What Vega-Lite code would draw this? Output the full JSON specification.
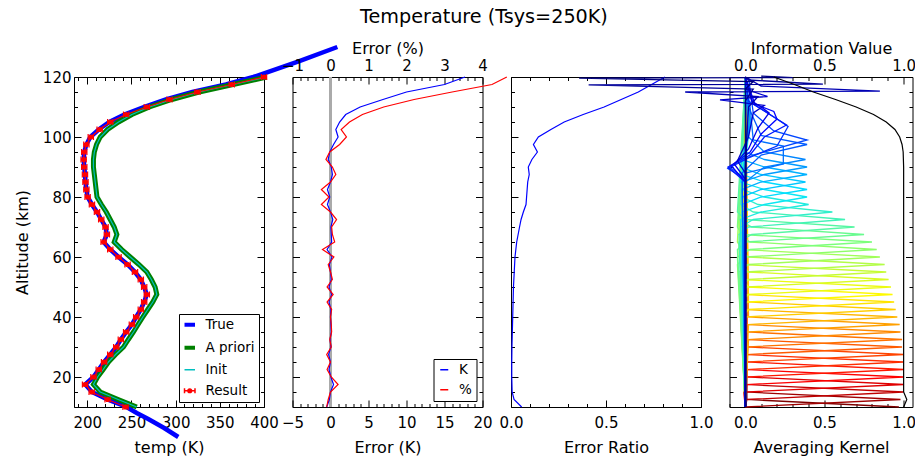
{
  "$schema": "https://vega.github.io/schema/vega-lite/v6.json",
  "padding": {"left": 13, "top": 8, "right": 0, "bottom": 0},
  "bounds": "flush",
  "spacing": 28.5,
  "title": {"text": "Temperature (Tsys=250K)", "font": "DejaVu Sans", "fontSize": 19.2, "fontWeight": "normal", "color": "black", "anchor": "middle", "dx": 19, "offset": 10},
  "config": {
    "font": "DejaVu Sans",
    "view": {"stroke": "black", "strokeWidth": 1},
    "axis": {"grid": false, "domain": false, "tickColor": "black", "tickWidth": 1, "labelColor": "black", "titleColor": "black", "labelFont": "DejaVu Sans", "titleFont": "DejaVu Sans", "labelFontSize": 15, "titleFontSize": 16, "titleFontWeight": "normal", "labelFlush": false, "labelOverlap": false},
    "axisBottom": {"labelPadding": 15, "titlePadding": 9},
    "axisTop": {"labelPadding": 11, "titlePadding": 2},
    "axisLeft": {"labelPadding": 10},
    "legend": {"labelFont": "DejaVu Sans", "labelColor": "black", "strokeColor": "black", "fillColor": "white", "cornerRadius": 0}
  },
  "resolve": {"scale": {"color": "independent"}},
  "datasets": {
    "tr": [{"z":0,"t":303},{"z":3,"t":287},{"z":6,"t":269},{"z":8,"t":256},{"z":10,"t":244.5},{"z":12.5,"t":223},{"z":15,"t":205.3},{"z":17.5,"t":197.7},{"z":20,"t":207},{"z":22.5,"t":213},{"z":25,"t":219},{"z":27.5,"t":226},{"z":30,"t":232.8},{"z":32.5,"t":238},{"z":35,"t":244},{"z":37.5,"t":250.5},{"z":40,"t":255.4},{"z":42.5,"t":260.6},{"z":45,"t":264.4},{"z":47.5,"t":267.4},{"z":50,"t":264.4},{"z":52.5,"t":260.6},{"z":55,"t":254},{"z":57.5,"t":245.6},{"z":60,"t":235.4},{"z":62.5,"t":226},{"z":65,"t":218.5},{"z":67.5,"t":222.2},{"z":70,"t":220.7},{"z":72.5,"t":215.8},{"z":75,"t":211},{"z":77.5,"t":205.3},{"z":80,"t":200.4},{"z":82.5,"t":199},{"z":85,"t":198},{"z":87.5,"t":197.4},{"z":90,"t":196.6},{"z":92.5,"t":195.9},{"z":95,"t":196.6},{"z":97.5,"t":199},{"z":100,"t":203.5},{"z":102.5,"t":213},{"z":105,"t":225},{"z":107.5,"t":242},{"z":110,"t":264},{"z":112.5,"t":289},{"z":115,"t":319},{"z":117.5,"t":357},{"z":120,"t":388},{"z":125.3,"t":440},{"z":130,"t":483}],
    "ap": [{"z":10,"t":256},{"z":12.5,"t":235},{"z":15,"t":214.7},{"z":17.5,"t":207},{"z":20,"t":211.7},{"z":22.5,"t":218},{"z":25,"t":224},{"z":27.5,"t":232},{"z":30,"t":241},{"z":32.5,"t":246.5},{"z":35,"t":252.3},{"z":37.5,"t":257.5},{"z":40,"t":262.9},{"z":42.5,"t":268.5},{"z":45,"t":274.2},{"z":47.5,"t":278.7},{"z":50,"t":276.8},{"z":52.5,"t":272.5},{"z":55,"t":267.4},{"z":57.5,"t":258.5},{"z":60,"t":248.6},{"z":62.5,"t":239},{"z":65,"t":230.5},{"z":67.5,"t":233.5},{"z":70,"t":230.5},{"z":72.5,"t":226},{"z":75,"t":221.5},{"z":77.5,"t":216},{"z":80,"t":211},{"z":82.5,"t":210},{"z":85,"t":209},{"z":87.5,"t":208},{"z":90,"t":207},{"z":92.5,"t":207},{"z":95,"t":208},{"z":97.5,"t":210.5},{"z":100,"t":214.7},{"z":102.5,"t":223},{"z":105,"t":235.4},{"z":107.5,"t":250.5},{"z":110,"t":270.4},{"z":112.5,"t":295.7},{"z":115,"t":326.6},{"z":117.5,"t":365},{"z":120,"t":403}],
    "rs": [{"z":10,"t":243.3,"lo":240.3,"hi":246.3},{"z":12.5,"t":223,"lo":220,"hi":226},{"z":15,"t":205,"lo":202,"hi":208},{"z":17.5,"t":197.5,"lo":194.5,"hi":200.5},{"z":20,"t":207,"lo":204,"hi":210},{"z":22.5,"t":213,"lo":210,"hi":216},{"z":25,"t":219,"lo":216,"hi":222},{"z":27.5,"t":226,"lo":223,"hi":229},{"z":30,"t":232.8,"lo":229.8,"hi":235.8},{"z":32.5,"t":238,"lo":235,"hi":241},{"z":35,"t":244,"lo":241,"hi":247},{"z":37.5,"t":250.5,"lo":247.5,"hi":253.5},{"z":40,"t":255.4,"lo":252.4,"hi":258.4},{"z":42.5,"t":260.6,"lo":257.6,"hi":263.6},{"z":45,"t":264.4,"lo":261.4,"hi":267.4},{"z":47.5,"t":267.4,"lo":264.4,"hi":270.4},{"z":50,"t":264.4,"lo":261.4,"hi":267.4},{"z":52.5,"t":260.6,"lo":257.6,"hi":263.6},{"z":55,"t":254,"lo":251,"hi":257},{"z":57.5,"t":245.6,"lo":242.6,"hi":248.6},{"z":60,"t":235.4,"lo":232.4,"hi":238.4},{"z":62.5,"t":226,"lo":223,"hi":229},{"z":65,"t":218.5,"lo":215.5,"hi":221.5},{"z":67.5,"t":222.2,"lo":219.2,"hi":225.2},{"z":70,"t":220.7,"lo":217.7,"hi":223.7},{"z":72.5,"t":215.8,"lo":212.8,"hi":218.8},{"z":75,"t":211,"lo":208,"hi":214},{"z":77.5,"t":205.3,"lo":202.3,"hi":208.3},{"z":80,"t":200.4,"lo":197.4,"hi":203.4},{"z":82.5,"t":199,"lo":196,"hi":202},{"z":85,"t":198,"lo":195,"hi":201},{"z":87.5,"t":197.4,"lo":194.4,"hi":200.4},{"z":90,"t":196.6,"lo":193.6,"hi":199.6},{"z":92.5,"t":195.9,"lo":192.9,"hi":198.9},{"z":95,"t":196.6,"lo":193.6,"hi":199.6},{"z":97.5,"t":199,"lo":196,"hi":202},{"z":100,"t":204,"lo":201,"hi":207},{"z":102.5,"t":214,"lo":211,"hi":217},{"z":105,"t":226,"lo":223,"hi":229},{"z":107.5,"t":244,"lo":241,"hi":247},{"z":110,"t":267.4,"lo":264.4,"hi":270.4},{"z":112.5,"t":293,"lo":290,"hi":296},{"z":115,"t":324.7,"lo":321.7,"hi":327.7},{"z":117.5,"t":363.5,"lo":360.5,"hi":366.5},{"z":120,"t":400,"lo":397,"hi":403}],
    "er": [{"z":10,"k":-0.5,"p":-0.1},{"z":12.5,"k":-0.15,"p":-0.06},{"z":15,"k":0,"p":0},{"z":17.5,"k":0.4,"p":0.2},{"z":20,"k":0.05,"p":0.02},{"z":22.5,"k":-0.2,"p":-0.09},{"z":25,"k":0,"p":0},{"z":27.5,"k":-0.25,"p":-0.1},{"z":30,"k":0.05,"p":0.02},{"z":32.5,"k":-0.05,"p":-0.02},{"z":35,"k":0.1,"p":0.03},{"z":37.5,"k":0.05,"p":0.02},{"z":40,"k":0,"p":0},{"z":42.5,"k":0.05,"p":0.03},{"z":45,"k":-0.2,"p":-0.09},{"z":47.5,"k":0.15,"p":0.07},{"z":50,"k":-0.2,"p":-0.09},{"z":52.5,"k":0.1,"p":0.05},{"z":55,"k":0,"p":0},{"z":57.5,"k":-0.15,"p":-0.06},{"z":60,"k":0.2,"p":0.09},{"z":62.5,"k":-0.45,"p":-0.21},{"z":65,"k":0.15,"p":0.11},{"z":67.5,"k":0.1,"p":0.05},{"z":70,"k":0.05,"p":0.03},{"z":72.5,"k":0.3,"p":0.16},{"z":75,"k":0,"p":0},{"z":77.5,"k":-0.4,"p":-0.24},{"z":80,"k":-0.1,"p":-0.04},{"z":82.5,"k":-0.4,"p":-0.24},{"z":85,"k":0,"p":0},{"z":87.5,"k":0.25,"p":0.14},{"z":90,"k":0.1,"p":0.05},{"z":92.5,"k":-0.3,"p":-0.12},{"z":95,"k":-0.1,"p":-0.02},{"z":97.5,"k":0.4,"p":0.24},{"z":100,"k":1.0,"p":0.42},{"z":102.5,"k":0.7,"p":0.28},{"z":105,"k":1.2,"p":0.5},{"z":107.5,"k":2.0,"p":0.84},{"z":110,"k":3.9,"p":1.4},{"z":112.5,"k":6.9,"p":2.2},{"z":115,"k":10.0,"p":3.2},{"z":117.5,"k":15.0,"p":4.25},{"z":120,"k":17.7,"p":4.64}],
    "ra": [{"z":10,"r":0.056},{"z":12.5,"r":0.016},{"z":15,"r":0.006},{"z":20,"r":0.004},{"z":25,"r":0.004},{"z":30,"r":0.005},{"z":35,"r":0.007},{"z":40,"r":0.009},{"z":45,"r":0.011},{"z":50,"r":0.013},{"z":55,"r":0.017},{"z":60,"r":0.021},{"z":65,"r":0.03},{"z":70,"r":0.045},{"z":72.5,"r":0.053},{"z":75,"r":0.065},{"z":77.5,"r":0.079},{"z":80,"r":0.082},{"z":82.5,"r":0.085},{"z":85,"r":0.088},{"z":87.5,"r":0.096},{"z":90,"r":0.091},{"z":92.5,"r":0.11},{"z":95,"r":0.139},{"z":97.5,"r":0.118},{"z":100,"r":0.144},{"z":102.5,"r":0.21},{"z":105,"r":0.28},{"z":107.5,"r":0.38},{"z":110,"r":0.49},{"z":112.5,"r":0.58},{"z":115,"r":0.67},{"z":117.5,"r":0.74},{"z":120,"r":0.81}],
    "iv": [{"z":10,"v":1.0},{"z":12.5,"v":1.02},{"z":15,"v":1.0},{"z":20,"v":1.0},{"z":30,"v":1.0},{"z":40,"v":1.0},{"z":50,"v":1.0},{"z":60,"v":1.0},{"z":70,"v":1.0},{"z":80,"v":1.0},{"z":90,"v":1.0},{"z":95,"v":0.997},{"z":97.5,"v":0.99},{"z":100,"v":0.975},{"z":102.5,"v":0.945},{"z":105,"v":0.89},{"z":107.5,"v":0.81},{"z":110,"v":0.7},{"z":112.5,"v":0.57},{"z":115,"v":0.43},{"z":117.5,"v":0.31},{"z":120,"v":0.18}],
    "ak": [
      {"k":10,"z":10,"v":0.97},{"k":10,"z":12.5,"v":0.01},{"k":10,"z":120,"v":0},
      {"k":12.5,"z":10,"v":0},{"k":12.5,"z":12.5,"v":0.98},{"k":12.5,"z":15,"v":0},{"k":12.5,"z":120,"v":0},
      {"k":15,"z":10,"v":0},{"k":15,"z":12.5,"v":0.01},{"k":15,"z":15,"v":1.0},{"k":15,"z":17.5,"v":0},{"k":15,"z":120,"v":0},
      {"k":17.5,"z":10,"v":0},{"k":17.5,"z":15,"v":-0.01},{"k":17.5,"z":17.5,"v":1.0},{"k":17.5,"z":20,"v":0.01},{"k":17.5,"z":120,"v":0},
      {"k":20,"z":10,"v":0},{"k":20,"z":17.5,"v":0.01},{"k":20,"z":20,"v":1.0},{"k":20,"z":22.5,"v":-0.01},{"k":20,"z":120,"v":0},
      {"k":22.5,"z":10,"v":0},{"k":22.5,"z":20,"v":-0.01},{"k":22.5,"z":22.5,"v":1.0},{"k":22.5,"z":25,"v":0.01},{"k":22.5,"z":120,"v":0},
      {"k":25,"z":10,"v":0},{"k":25,"z":22.5,"v":0.01},{"k":25,"z":25,"v":1.0},{"k":25,"z":27.5,"v":-0.01},{"k":25,"z":120,"v":0},
      {"k":27.5,"z":10,"v":0},{"k":27.5,"z":25,"v":-0.01},{"k":27.5,"z":27.5,"v":1.0},{"k":27.5,"z":30,"v":0.01},{"k":27.5,"z":120,"v":0},
      {"k":30,"z":10,"v":0},{"k":30,"z":27.5,"v":0.01},{"k":30,"z":30,"v":0.99},{"k":30,"z":32.5,"v":-0.01},{"k":30,"z":120,"v":0},
      {"k":32.5,"z":10,"v":0},{"k":32.5,"z":30,"v":-0.01},{"k":32.5,"z":32.5,"v":0.99},{"k":32.5,"z":35,"v":0.01},{"k":32.5,"z":120,"v":0},
      {"k":35,"z":10,"v":0},{"k":35,"z":32.5,"v":0.02},{"k":35,"z":35,"v":0.98},{"k":35,"z":37.5,"v":-0.01},{"k":35,"z":120,"v":0},
      {"k":37.5,"z":10,"v":0},{"k":37.5,"z":35,"v":-0.01},{"k":37.5,"z":37.5,"v":0.975},{"k":37.5,"z":40,"v":0.02},{"k":37.5,"z":120,"v":0},
      {"k":40,"z":10,"v":0},{"k":40,"z":37.5,"v":0.02},{"k":40,"z":40,"v":0.96},{"k":40,"z":42.5,"v":-0.01},{"k":40,"z":120,"v":0},
      {"k":42.5,"z":10,"v":0},{"k":42.5,"z":40,"v":-0.02},{"k":42.5,"z":42.5,"v":0.95},{"k":42.5,"z":45,"v":0.02},{"k":42.5,"z":120,"v":0},
      {"k":45,"z":10,"v":0},{"k":45,"z":40,"v":-0.02},{"k":45,"z":42.5,"v":0.02},{"k":45,"z":45,"v":0.94},{"k":45,"z":47.5,"v":-0.01},{"k":45,"z":50,"v":-0.02},{"k":45,"z":120,"v":0},
      {"k":47.5,"z":10,"v":0},{"k":47.5,"z":42.5,"v":-0.02},{"k":47.5,"z":45,"v":0.01},{"k":47.5,"z":47.5,"v":0.93},{"k":47.5,"z":50,"v":0.02},{"k":47.5,"z":52.5,"v":-0.02},{"k":47.5,"z":120,"v":0},
      {"k":50,"z":10,"v":0},{"k":50,"z":45,"v":-0.03},{"k":50,"z":47.5,"v":0.02},{"k":50,"z":50,"v":0.92},{"k":50,"z":52.5,"v":-0.01},{"k":50,"z":55,"v":-0.03},{"k":50,"z":120,"v":0},
      {"k":52.5,"z":10,"v":0},{"k":52.5,"z":47.5,"v":-0.03},{"k":52.5,"z":50,"v":0.01},{"k":52.5,"z":52.5,"v":0.905},{"k":52.5,"z":55,"v":0.02},{"k":52.5,"z":57.5,"v":-0.03},{"k":52.5,"z":120,"v":0},
      {"k":55,"z":10,"v":0},{"k":55,"z":50,"v":-0.03},{"k":55,"z":52.5,"v":0.02},{"k":55,"z":55,"v":0.89},{"k":55,"z":57.5,"v":-0.02},{"k":55,"z":60,"v":-0.04},{"k":55,"z":120,"v":0},
      {"k":57.5,"z":10,"v":0},{"k":57.5,"z":52.5,"v":-0.04},{"k":57.5,"z":55,"v":0},{"k":57.5,"z":57.5,"v":0.88},{"k":57.5,"z":60,"v":0.02},{"k":57.5,"z":62.5,"v":-0.04},{"k":57.5,"z":120,"v":0},
      {"k":60,"z":10,"v":0},{"k":60,"z":55,"v":-0.04},{"k":60,"z":57.5,"v":0.02},{"k":60,"z":60,"v":0.85},{"k":60,"z":62.5,"v":-0.02},{"k":60,"z":65,"v":-0.05},{"k":60,"z":120,"v":0},
      {"k":62.5,"z":10,"v":0},{"k":62.5,"z":57.5,"v":-0.05},{"k":62.5,"z":60,"v":0},{"k":62.5,"z":62.5,"v":0.83},{"k":62.5,"z":65,"v":0.03},{"k":62.5,"z":67.5,"v":-0.04},{"k":62.5,"z":120,"v":0},
      {"k":65,"z":10,"v":0},{"k":65,"z":60,"v":-0.05},{"k":65,"z":62.5,"v":0.03},{"k":65,"z":65,"v":0.8},{"k":65,"z":67.5,"v":-0.02},{"k":65,"z":70,"v":-0.05},{"k":65,"z":120,"v":0},
      {"k":67.5,"z":10,"v":0},{"k":67.5,"z":62.5,"v":-0.05},{"k":67.5,"z":65,"v":0},{"k":67.5,"z":67.5,"v":0.75},{"k":67.5,"z":70,"v":0.04},{"k":67.5,"z":72.5,"v":-0.04},{"k":67.5,"z":120,"v":0},
      {"k":70,"z":10,"v":0},{"k":70,"z":65,"v":-0.04},{"k":70,"z":67.5,"v":0.04},{"k":70,"z":70,"v":0.69},{"k":70,"z":72.5,"v":0},{"k":70,"z":75,"v":-0.05},{"k":70,"z":120,"v":0},
      {"k":72.5,"z":10,"v":0},{"k":72.5,"z":67.5,"v":-0.04},{"k":72.5,"z":70,"v":0.02},{"k":72.5,"z":72.5,"v":0.63},{"k":72.5,"z":75,"v":0.05},{"k":72.5,"z":77.5,"v":-0.03},{"k":72.5,"z":120,"v":0},
      {"k":75,"z":10,"v":0},{"k":75,"z":70,"v":-0.03},{"k":75,"z":72.5,"v":0.05},{"k":75,"z":75,"v":0.55},{"k":75,"z":77.5,"v":0.08},{"k":75,"z":80,"v":-0.02},{"k":75,"z":105,"v":0.02},{"k":75,"z":120,"v":0},
      {"k":77.5,"z":10,"v":0},{"k":77.5,"z":72.5,"v":-0.03},{"k":77.5,"z":75,"v":0.1},{"k":77.5,"z":77.5,"v":0.4},{"k":77.5,"z":80,"v":0.12},{"k":77.5,"z":82.5,"v":-0.02},{"k":77.5,"z":105,"v":0.03},{"k":77.5,"z":120,"v":0},
      {"k":80,"z":10,"v":0},{"k":80,"z":75,"v":-0.02},{"k":80,"z":77.5,"v":0.12},{"k":80,"z":80,"v":0.39},{"k":80,"z":82.5,"v":0.12},{"k":80,"z":85,"v":-0.03},{"k":80,"z":105,"v":0.03},{"k":80,"z":120,"v":0},
      {"k":82.5,"z":10,"v":0},{"k":82.5,"z":77.5,"v":-0.02},{"k":82.5,"z":80,"v":0.1},{"k":82.5,"z":82.5,"v":0.39},{"k":82.5,"z":85,"v":0.12},{"k":82.5,"z":87.5,"v":-0.02},{"k":82.5,"z":105,"v":0.03},{"k":82.5,"z":120,"v":0},
      {"k":85,"z":10,"v":0},{"k":85,"z":80,"v":-0.02},{"k":85,"z":82.5,"v":0.1},{"k":85,"z":85,"v":0.38},{"k":85,"z":87.5,"v":0.1},{"k":85,"z":90,"v":-0.03},{"k":85,"z":105,"v":0.03},{"k":85,"z":120,"v":0},
      {"k":87.5,"z":10,"v":0},{"k":87.5,"z":82.5,"v":-0.02},{"k":87.5,"z":85,"v":0.1},{"k":87.5,"z":87.5,"v":0.39},{"k":87.5,"z":90,"v":0.12},{"k":87.5,"z":92.5,"v":-0.02},{"k":87.5,"z":105,"v":0.03},{"k":87.5,"z":120,"v":0},
      {"k":90,"z":10,"v":0},{"k":90,"z":85,"v":-0.02},{"k":90,"z":87.5,"v":0.12},{"k":90,"z":90,"v":0.39},{"k":90,"z":92.5,"v":0.12},{"k":90,"z":95,"v":0},{"k":90,"z":105,"v":0.03},{"k":90,"z":120,"v":0},
      {"k":92.5,"z":10,"v":0},{"k":92.5,"z":85,"v":0},{"k":92.5,"z":90,"v":0.12},{"k":92.5,"z":92.5,"v":0.38},{"k":92.5,"z":95,"v":0.12},{"k":92.5,"z":100,"v":0.02},{"k":92.5,"z":120,"v":0},
      {"k":95,"z":10,"v":0},{"k":95,"z":88,"v":0},{"k":95,"z":91,"v":0.24},{"k":95,"z":97,"v":0.24},{"k":95,"z":99,"v":0.05},{"k":95,"z":110,"v":0.03},{"k":95,"z":120,"v":0},
      {"k":97.5,"z":10,"v":0},{"k":97.5,"z":88,"v":-0.02},{"k":97.5,"z":94,"v":0.1},{"k":97.5,"z":97.5,"v":0.39},{"k":97.5,"z":100.5,"v":0.1},{"k":97.5,"z":110,"v":0.02},{"k":97.5,"z":120,"v":0},
      {"k":100,"z":10,"v":0},{"k":100,"z":86,"v":0},{"k":100,"z":90,"v":-0.1},{"k":100,"z":94,"v":0.05},{"k":100,"z":99,"v":0.39},{"k":100,"z":102,"v":0.18},{"k":100,"z":108,"v":0.05},{"k":100,"z":120,"v":0.02},
      {"k":102.5,"z":10,"v":0},{"k":102.5,"z":86,"v":0},{"k":102.5,"z":89.5,"v":-0.11},{"k":102.5,"z":93,"v":0.02},{"k":102.5,"z":97,"v":0.2},{"k":102.5,"z":103.5,"v":0.27},{"k":102.5,"z":106,"v":0.2},{"k":102.5,"z":112,"v":0.02},{"k":102.5,"z":120,"v":0},
      {"k":105,"z":10,"v":0},{"k":105,"z":85,"v":0},{"k":105,"z":90,"v":-0.11},{"k":105,"z":94,"v":0.03},{"k":105,"z":100,"v":0.12},{"k":105,"z":104,"v":0.26},{"k":105,"z":107,"v":0.17},{"k":105,"z":111,"v":0.05},{"k":105,"z":120,"v":0},
      {"k":107.5,"z":10,"v":0},{"k":107.5,"z":85,"v":0},{"k":107.5,"z":90.5,"v":-0.09},{"k":107.5,"z":95,"v":0.03},{"k":107.5,"z":101,"v":0.1},{"k":107.5,"z":106,"v":0.2},{"k":107.5,"z":108.5,"v":0.18},{"k":107.5,"z":111,"v":0.06},{"k":107.5,"z":120,"v":0},
      {"k":110,"z":10,"v":0},{"k":110,"z":86,"v":0},{"k":110,"z":91,"v":-0.07},{"k":110,"z":96,"v":0.02},{"k":110,"z":103,"v":0.08},{"k":110,"z":108,"v":0.15},{"k":110,"z":110,"v":0.1},{"k":110,"z":112,"v":0.04},{"k":110,"z":120,"v":0},
      {"k":112.5,"z":10,"v":0},{"k":112.5,"z":88,"v":0},{"k":112.5,"z":92,"v":-0.05},{"k":112.5,"z":100,"v":0.02},{"k":112.5,"z":108,"v":0.05},{"k":112.5,"z":110.5,"v":0.12},{"k":112.5,"z":112.4,"v":-0.16},{"k":112.5,"z":113.5,"v":0.14},{"k":112.5,"z":116,"v":0},{"k":112.5,"z":120,"v":0},
      {"k":115,"z":10,"v":0},{"k":115,"z":90,"v":0},{"k":115,"z":110,"v":0.02},{"k":115,"z":113.5,"v":0.08},{"k":115,"z":115,"v":-0.38},{"k":115,"z":115.3,"v":0.85},{"k":115,"z":117,"v":0.1},{"k":115,"z":120,"v":0},
      {"k":117.5,"z":10,"v":0},{"k":117.5,"z":95,"v":0},{"k":117.5,"z":112,"v":0},{"k":117.5,"z":116,"v":0.05},{"k":117.5,"z":117.4,"v":-0.99},{"k":117.5,"z":117.6,"v":0.49},{"k":117.5,"z":119,"v":0.02},{"k":117.5,"z":120,"v":0},
      {"k":120,"z":10,"v":0.005},{"k":120,"z":100,"v":0.005},{"k":120,"z":116,"v":0},{"k":120,"z":118.5,"v":0.05},{"k":120,"z":119.6,"v":-1.05},{"k":120,"z":119.8,"v":0.3},{"k":120,"z":120.3,"v":0.1}
    ]
  },
  "hconcat": [
    {
      "width": 190, "height": 330,
      "layer": [
        {
          "layer": [
            {"data": {"name": "tr"}, "mark": {"type": "line", "strokeWidth": 4.5},
             "encoding": {
               "x": {"field": "t", "type": "quantitative", "scale": {"domain": [185, 400], "nice": false, "zero": false},
                     "axis": {"orient": "bottom", "title": "temp (K)", "format": "d", "values": [200,250,300,350,400], "tickSize": -7}},
               "y": {"field": "z", "type": "quantitative", "scale": {"domain": [10, 120], "nice": false, "zero": false},
                     "axis": {"orient": "left", "title": "Altitude (km)", "format": "d", "values": [20,40,60,80,100,120], "tickSize": -7, "titlePadding": 12}},
               "order": {"field": "z", "type": "quantitative"},
               "color": {"datum": "True", "type": "nominal",
                         "scale": {"domain": ["True", "A priori", "Init", "Result"], "range": ["#0000ff", "#008000", "#00bfbf", "#ff0000"]},
                         "legend": {"orient": "bottom-right", "offset": 5, "title": null, "padding": 4, "symbolType": "stroke", "symbolSize": 110, "symbolStrokeWidth": 4, "labelFontSize": 13.5, "labelOffset": 9, "rowPadding": 6,
                                    "encode": {"symbols": {"update": {
                                      "strokeWidth": {"signal": "datum.value === 'Init' || datum.value === 'Result' ? 1.5 : 4"},
                                      "shape": {"signal": "datum.value === 'Result' ? 'M-1,0H1M-1,-0.5V0.5M1,-0.5V0.5M-0.35,0A0.35,0.35,0,1,1,0.35,0A0.35,0.35,0,1,1,-0.35,0' : 'stroke'"},
                                      "fill": {"signal": "datum.value === 'Result' ? '#ff0000' : 'transparent'"}}}}}}
             }},
            {"data": {"name": "ap"}, "mark": {"type": "line", "strokeWidth": 5},
             "encoding": {"x": {"field": "t", "type": "quantitative"}, "y": {"field": "z", "type": "quantitative"}, "order": {"field": "z", "type": "quantitative"}, "color": {"datum": "A priori", "type": "nominal"}}},
            {"data": {"name": "ap"}, "mark": {"type": "line", "strokeWidth": 1.2},
             "encoding": {"x": {"field": "t", "type": "quantitative"}, "y": {"field": "z", "type": "quantitative"}, "order": {"field": "z", "type": "quantitative"}, "color": {"datum": "Init", "type": "nominal"}}},
            {"data": {"name": "rs"}, "mark": {"type": "rule", "color": "#ff0000", "strokeWidth": 1.2},
             "encoding": {"x": {"field": "lo", "type": "quantitative"}, "x2": {"field": "hi"}, "y": {"field": "z", "type": "quantitative"}}},
            {"data": {"name": "rs"}, "mark": {"type": "tick", "orient": "vertical", "color": "#ff0000", "size": 6, "thickness": 1.2, "opacity": 1},
             "encoding": {"x": {"field": "lo", "type": "quantitative"}, "y": {"field": "z", "type": "quantitative"}}},
            {"data": {"name": "rs"}, "mark": {"type": "tick", "orient": "vertical", "color": "#ff0000", "size": 6, "thickness": 1.2, "opacity": 1},
             "encoding": {"x": {"field": "hi", "type": "quantitative"}, "y": {"field": "z", "type": "quantitative"}}},
            {"data": {"name": "rs"}, "mark": {"type": "line", "strokeWidth": 1.2},
             "encoding": {"x": {"field": "t", "type": "quantitative"}, "y": {"field": "z", "type": "quantitative"}, "order": {"field": "z", "type": "quantitative"}, "color": {"datum": "Result", "type": "nominal"}}},
            {"data": {"name": "rs"}, "mark": {"type": "circle", "color": "#ff0000", "size": 26, "opacity": 1},
             "encoding": {"x": {"field": "t", "type": "quantitative"}, "y": {"field": "z", "type": "quantitative"}}}
          ]
        },
        {"data": {"name": "ap"}, "mark": {"type": "line", "opacity": 0},
         "encoding": {
           "x": {"field": "t", "type": "quantitative", "axis": {"orient": "bottom", "title": null, "labels": false, "values": [190,210,220,230,240,260,270,280,290,310,320,330,340,360,370,380,390], "tickSize": -3.5}},
           "y": {"field": "z", "type": "quantitative", "axis": {"orient": "left", "title": null, "labels": false, "values": [10,15,25,30,35,45,50,55,65,70,75,85,90,95,105,110,115], "tickSize": -3.5}},
           "order": {"field": "z", "type": "quantitative"}}},
        {"data": {"name": "ap"}, "mark": {"type": "line", "opacity": 0},
         "encoding": {
           "x": {"field": "t", "type": "quantitative", "axis": {"orient": "top", "title": null, "labels": false, "values": [200,250,300,350,400], "tickSize": -7}},
           "y": {"field": "z", "type": "quantitative", "axis": {"orient": "right", "title": null, "labels": false, "values": [20,40,60,80,100,120], "tickSize": -7}},
           "order": {"field": "z", "type": "quantitative"}}},
        {"data": {"name": "ap"}, "mark": {"type": "line", "opacity": 0},
         "encoding": {
           "x": {"field": "t", "type": "quantitative", "axis": {"orient": "top", "title": null, "labels": false, "values": [190,210,220,230,240,260,270,280,290,310,320,330,340,360,370,380,390], "tickSize": -3.5}},
           "y": {"field": "z", "type": "quantitative", "axis": {"orient": "right", "title": null, "labels": false, "values": [10,15,25,30,35,45,50,55,65,70,75,85,90,95,105,110,115], "tickSize": -3.5}},
           "order": {"field": "z", "type": "quantitative"}}}
      ],
      "resolve": {"axis": {"x": "independent", "y": "independent"}}
    },
    {
      "width": 190, "height": 330,
      "layer": [
        {"data": {"values": [{}]}, "mark": {"type": "rule", "color": "#aaaaaa", "strokeWidth": 3},
         "encoding": {"x": {"datum": 0, "type": "quantitative", "scale": {"domain": [-5, 20], "nice": false, "zero": false}, "axis": null}}},
        {"data": {"name": "er"}, "mark": {"type": "line", "strokeWidth": 1.2},
         "encoding": {
           "x": {"field": "k", "type": "quantitative", "scale": {"domain": [-5, 20], "nice": false, "zero": false},
                 "axis": {"orient": "bottom", "title": "Error (K)", "format": "d", "values": [-5,0,5,10,15,20], "tickSize": -7}},
           "y": {"field": "z", "type": "quantitative", "scale": {"domain": [10, 120], "nice": false, "zero": false},
                 "axis": {"orient": "left", "title": null, "labels": false, "values": [20,40,60,80,100,120], "tickSize": -7}},
           "order": {"field": "z", "type": "quantitative"},
           "color": {"datum": "K", "type": "nominal", "scale": {"domain": ["K", "%"], "range": ["#0000ff", "#ff0000"]},
                     "legend": {"orient": "bottom-right", "offset": 6, "title": null, "padding": 4, "symbolType": "stroke", "symbolSize": 64, "symbolStrokeWidth": 1.5, "labelFontSize": 13.5, "labelOffset": 8, "rowPadding": 5}}
         }},
        {"data": {"name": "er"}, "mark": {"type": "line", "strokeWidth": 1.2},
         "encoding": {
           "x": {"field": "p", "type": "quantitative", "scale": {"domain": [-1, 4], "nice": false, "zero": false},
                 "axis": {"orient": "top", "title": "Error (%)", "format": "d", "values": [-1,0,1,2,3,4], "tickSize": -7}},
           "y": {"field": "z", "type": "quantitative",
                 "axis": {"orient": "right", "title": null, "labels": false, "values": [20,40,60,80,100,120], "tickSize": -7}},
           "order": {"field": "z", "type": "quantitative"},
           "color": {"datum": "%", "type": "nominal"}
         }},
        {"data": {"name": "er"}, "mark": {"type": "line", "opacity": 0},
         "encoding": {
           "x": {"field": "k", "type": "quantitative", "scale": {"domain": [-5, 20], "nice": false, "zero": false},
                 "axis": {"orient": "bottom", "title": null, "labels": false, "values": [-4,-3,-2,-1,1,2,3,4,6,7,8,9,11,12,13,14,16,17,18,19], "tickSize": -3.5}},
           "y": {"field": "z", "type": "quantitative", "axis": {"orient": "left", "title": null, "labels": false, "values": [10,15,25,30,35,45,50,55,65,70,75,85,90,95,105,110,115], "tickSize": -3.5}},
           "order": {"field": "z", "type": "quantitative"}}},
        {"data": {"name": "er"}, "mark": {"type": "line", "opacity": 0},
         "encoding": {
           "x": {"field": "p", "type": "quantitative", "scale": {"domain": [-1, 4], "nice": false, "zero": false},
                 "axis": {"orient": "top", "title": null, "labels": false, "values": [-0.8,-0.6,-0.4,-0.2,0.2,0.4,0.6,0.8,1.2,1.4,1.6,1.8,2.2,2.4,2.6,2.8,3.2,3.4,3.6,3.8], "tickSize": -3.5}},
           "y": {"field": "z", "type": "quantitative", "axis": {"orient": "right", "title": null, "labels": false, "values": [10,15,25,30,35,45,50,55,65,70,75,85,90,95,105,110,115], "tickSize": -3.5}},
           "order": {"field": "z", "type": "quantitative"}}}
      ],
      "resolve": {"scale": {"x": "independent"}, "axis": {"x": "independent", "y": "independent"}}
    },
    {
      "width": 190, "height": 330,
      "layer": [
        {"data": {"name": "ra"}, "mark": {"type": "line", "color": "#0000ff", "strokeWidth": 1.2},
         "encoding": {
           "x": {"field": "r", "type": "quantitative", "scale": {"domain": [0, 1], "nice": false, "zero": false},
                 "axis": {"orient": "bottom", "title": "Error Ratio", "format": ".1f", "values": [0,0.5,1], "tickSize": -7}},
           "y": {"field": "z", "type": "quantitative", "scale": {"domain": [10, 120], "nice": false, "zero": false},
                 "axis": {"orient": "left", "title": null, "labels": false, "values": [20,40,60,80,100,120], "tickSize": -7}},
           "order": {"field": "z", "type": "quantitative"}
         }},
        {"data": {"name": "ra"}, "mark": {"type": "line", "opacity": 0},
         "encoding": {
           "x": {"field": "r", "type": "quantitative", "axis": {"orient": "bottom", "title": null, "labels": false, "values": [0.1,0.2,0.3,0.4,0.6,0.7,0.8,0.9], "tickSize": -3.5}},
           "y": {"field": "z", "type": "quantitative", "axis": {"orient": "left", "title": null, "labels": false, "values": [10,15,25,30,35,45,50,55,65,70,75,85,90,95,105,110,115], "tickSize": -3.5}},
           "order": {"field": "z", "type": "quantitative"}}},
        {"data": {"name": "ra"}, "mark": {"type": "line", "opacity": 0},
         "encoding": {
           "x": {"field": "r", "type": "quantitative", "axis": {"orient": "top", "title": null, "labels": false, "values": [0,0.5,1], "tickSize": -7}},
           "y": {"field": "z", "type": "quantitative", "axis": {"orient": "right", "title": null, "labels": false, "values": [20,40,60,80,100,120], "tickSize": -7}},
           "order": {"field": "z", "type": "quantitative"}}},
        {"data": {"name": "ra"}, "mark": {"type": "line", "opacity": 0},
         "encoding": {
           "x": {"field": "r", "type": "quantitative", "axis": {"orient": "top", "title": null, "labels": false, "values": [0.1,0.2,0.3,0.4,0.6,0.7,0.8,0.9], "tickSize": -3.5}},
           "y": {"field": "z", "type": "quantitative", "axis": {"orient": "right", "title": null, "labels": false, "values": [10,15,25,30,35,45,50,55,65,70,75,85,90,95,105,110,115], "tickSize": -3.5}},
           "order": {"field": "z", "type": "quantitative"}}}
      ],
      "resolve": {"axis": {"x": "independent", "y": "independent"}}
    },
    {
      "width": 183, "height": 330,
      "layer": [
        {"data": {"name": "ak"}, "mark": {"type": "line", "strokeWidth": 1.3},
         "encoding": {
           "x": {"field": "v", "type": "quantitative", "scale": {"domain": [-0.1, 1.056], "nice": false, "zero": false},
                 "axis": {"orient": "bottom", "title": "Averaging Kernel", "format": ".1f", "values": [0,0.5,1], "tickSize": -7}},
           "y": {"field": "z", "type": "quantitative", "scale": {"domain": [10, 120], "nice": false, "zero": false},
                 "axis": {"orient": "left", "title": null, "labels": false, "values": [20,40,60,80,100,120], "tickSize": -7}},
           "detail": {"field": "k", "type": "quantitative"},
           "stroke": {"field": "k", "type": "quantitative", "legend": null,
                      "scale": {"type": "linear", "domain": [10, 19.9, 22.1, 47.4, 65, 81.5, 107.9, 120], "range": ["#800000", "#ff0000", "#ff1300", "#fffa00", "#7bff7b", "#00e5ff", "#0000ff", "#000080"], "interpolate": "rgb"}},
           "order": {"field": "z", "type": "quantitative"}
         }},
        {"data": {"name": "iv"}, "mark": {"type": "line", "color": "black", "strokeWidth": 1.2},
         "encoding": {
           "x": {"field": "v", "type": "quantitative",
                 "axis": {"orient": "top", "title": "Information Value", "format": ".1f", "values": [0,0.5,1], "tickSize": -7}},
           "y": {"field": "z", "type": "quantitative", "axis": {"orient": "right", "title": null, "labels": false, "values": [20,40,60,80,100,120], "tickSize": -7}},
           "order": {"field": "z", "type": "quantitative"}
         }},
        {"data": {"name": "iv"}, "mark": {"type": "line", "opacity": 0},
         "encoding": {
           "x": {"field": "v", "type": "quantitative", "axis": {"orient": "bottom", "title": null, "labels": false, "values": [-0.1,0.1,0.2,0.3,0.4,0.6,0.7,0.8,0.9], "tickSize": -3.5}},
           "y": {"field": "z", "type": "quantitative", "axis": {"orient": "left", "title": null, "labels": false, "values": [10,15,25,30,35,45,50,55,65,70,75,85,90,95,105,110,115], "tickSize": -3.5}},
           "order": {"field": "z", "type": "quantitative"}}},
        {"data": {"name": "iv"}, "mark": {"type": "line", "opacity": 0},
         "encoding": {
           "x": {"field": "v", "type": "quantitative", "axis": {"orient": "top", "title": null, "labels": false, "values": [-0.1,0.1,0.2,0.3,0.4,0.6,0.7,0.8,0.9], "tickSize": -3.5}},
           "y": {"field": "z", "type": "quantitative", "axis": {"orient": "right", "title": null, "labels": false, "values": [10,15,25,30,35,45,50,55,65,70,75,85,90,95,105,110,115], "tickSize": -3.5}},
           "order": {"field": "z", "type": "quantitative"}}}
      ],
      "resolve": {"axis": {"x": "independent", "y": "independent"}}
    }
  ]
}
